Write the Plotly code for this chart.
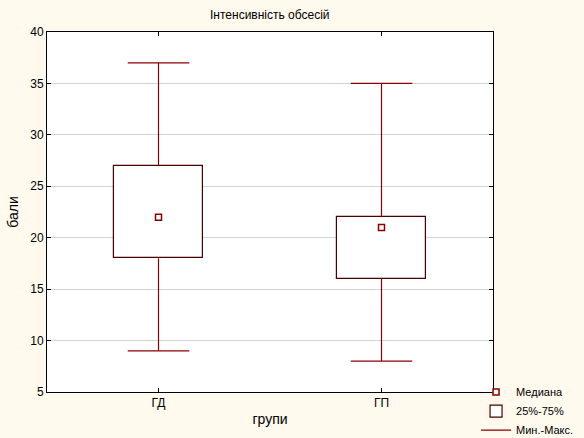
import plotly.graph_objects as go

# Дані: Інтенсивність обсесій
groups = ["ГД", "ГП"]
mins = [9, 8]
q1 = [18, 16]
medians = [22, 21]
q3 = [27, 22]
maxs = [37, 35]

box_line = "#4a0000"
whisker_col = "#8b0000"

fig = go.Figure()

# вуса: від мінімуму до Q1 і від Q3 до максимуму
wx, wy = [], []
for g, lo, a, b, hi in zip(groups, mins, q1, q3, maxs):
    wx += [g, g, None, g, g, None]
    wy += [lo, a, None, b, hi, None]

fig.add_trace(go.Scatter(
    x=groups, y=medians, mode="markers", name="Медиана",
    marker=dict(symbol="square", size=6, color="white",
                line=dict(color=whisker_col, width=1.5)),
))

fig.add_trace(go.Bar(
    x=groups, y=[b - a for a, b in zip(q1, q3)], base=q1, width=0.4,
    name="25%-75%",
    marker=dict(color="white", line=dict(color=box_line, width=1.2)),
))

fig.add_trace(go.Scatter(
    x=wx, y=wy, mode="lines", name="Мин.-Макс.",
    line=dict(color=whisker_col, width=1.2),
))

# засічки на кінцях вусів
fig.add_trace(go.Scatter(
    x=groups + groups, y=mins + maxs, mode="markers", showlegend=False,
    marker=dict(symbol="line-ew", size=44, line=dict(color=whisker_col, width=1.2)),
))

fig.update_layout(
    width=584, height=438,
    paper_bgcolor="#fff9ee", plot_bgcolor="white",
    margin=dict(l=47, r=91, t=32, b=46, autoexpand=False),
    font=dict(family="Liberation Sans, Arial, sans-serif", size=12, color="black"),
    title=dict(text="Інтенсивність обсесій", x=0.462, xanchor="center",
               y=0.975, yanchor="top", font=dict(size=12)),
    legend=dict(x=0.962, y=0.04, xanchor="left", yanchor="top",
                bgcolor="rgba(0,0,0,0)", font=dict(size=11),
                tracegroupgap=0, itemwidth=30),
    showlegend=True,
    bargap=0,
)

fig.update_xaxes(
    title=dict(text="групи", standoff=4), range=[-0.5, 1.5],
    showline=True, linecolor="black", linewidth=1, mirror="ticks",
    ticks="inside", ticklen=4, tickcolor="black", showgrid=False,
    automargin=False,
)
fig.update_yaxes(
    title=dict(text="бали", standoff=8), range=[5, 40], dtick=5,
    showline=True, linecolor="black", linewidth=1, mirror="ticks",
    ticks="inside", ticklen=4, tickcolor="black",
    showgrid=True, gridcolor="#d3d3d3", zeroline=False,
    automargin=False,
)

fig.write_html("out.html", config={"displayModeBar": False},
               post_script="document.body.style.margin='0';"
               "document.body.style.background='#fff9ee';")
